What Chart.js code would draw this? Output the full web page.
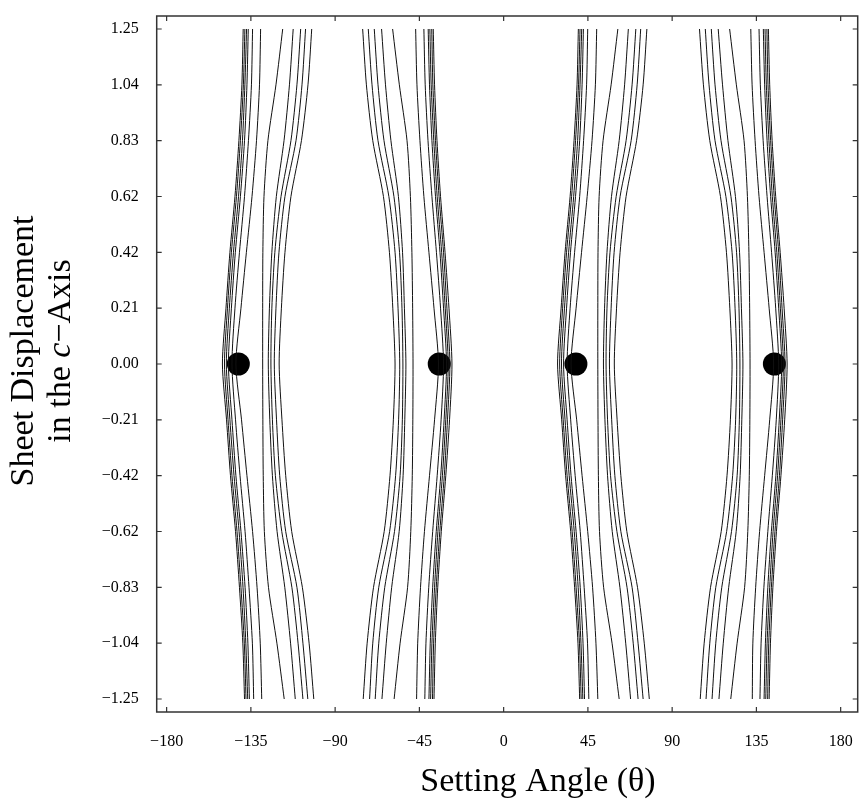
<!DOCTYPE html>
<html>
<head>
<meta charset="utf-8">
<script src="https://cdn.jsdelivr.net/npm/chart.js@4.4.1/dist/chart.umd.min.js"></script>
<style>
    html, body { margin: 0; padding: 0; background: #fff; }
    #wrap { width: 859px; height: 802px; }
</style>
</head>
<body>
<div id="wrap"><canvas id="chart" width="859" height="802"></canvas></div>
<script>
// Sheet displacement levels (top to bottom) shared by every contour line
const yLevels = [1.25, 1.0417, 0.8333, 0.625, 0.4167, 0.2083, 0, -0.2083, -0.4167, -0.625, -0.8333, -1.0417, -1.25];

// Tick values and labels
const xTicks = [-180, -135, -90, -45, 0, 45, 90, 135, 180];
const yTicks = [-1.25, -1.0417, -0.8333, -0.625, -0.4167, -0.2083, 0, 0.2083, 0.4167, 0.625, 0.8333, 1.0417, 1.25];
const yTickLabels = ['\u22121.25', '\u22121.04', '\u22120.83', '\u22120.62', '\u22120.42', '\u22120.21', '0.00',
    '0.21', '0.42', '0.62', '0.83', '1.04', '1.25'];

// Contour lines, setting angle at each level of yLevels
const group1 = [
    [-139.1, -139.8, -141.4, -143.5, -146.2, -148.3, -150.2, -148.0, -145.9, -143.2, -141.1, -139.3, -138.4],
    [-138.2, -139.0, -140.6, -142.7, -145.4, -147.5, -149.1, -147.2, -145.1, -142.4, -140.3, -138.5, -137.6],
    [-137.3, -138.2, -139.5, -141.6, -144.3, -146.5, -148.1, -146.2, -144.0, -141.3, -139.2, -137.7, -136.7],
    [-136.4, -137.1, -138.4, -140.6, -143.3, -145.4, -147.0, -145.1, -143.0, -140.3, -138.1, -136.6, -135.8],
    [-134.1, -134.7, -136.3, -138.4, -141.1, -143.5, -145.1, -143.2, -140.8, -138.1, -136.0, -134.2, -133.5],
    [-129.8, -130.4, -132.0, -134.4, -137.4, -140.3, -143.0, -140.0, -137.1, -134.1, -131.7, -130.0, -129.2],
    [-118.0, -121.6, -125.9, -128.0, -128.6, -128.7, -128.7, -128.6, -128.4, -127.8, -125.6, -121.1, -117.2],
    [-112.4, -114.4, -117.3, -121.4, -123.8, -125.1, -125.7, -124.9, -123.5, -121.0, -116.9, -113.8, -111.3],
    [-108.4, -110.4, -113.6, -118.9, -122.2, -123.8, -124.3, -123.5, -121.9, -118.5, -113.1, -109.8, -107.2],
    [-105.8, -107.7, -110.9, -116.8, -120.0, -121.6, -122.5, -121.3, -119.6, -116.4, -110.4, -107.2, -104.6],
    [-102.5, -104.5, -108.0, -113.6, -116.8, -118.7, -119.9, -118.4, -116.4, -113.2, -107.5, -103.9, -101.4]
];
const group2 = [
    [-37.6, -36.9, -35.6, -33.7, -31.3, -29.2, -27.6, -28.9, -30.9, -33.3, -35.2, -36.5, -37.2],
    [-38.4, -37.8, -36.4, -34.5, -32.1, -30.3, -28.7, -30.0, -31.7, -34.1, -36.0, -37.4, -38.0],
    [-39.4, -38.7, -37.3, -35.5, -33.1, -31.2, -29.6, -30.9, -32.7, -35.1, -36.9, -38.3, -39.0],
    [-40.3, -39.6, -38.3, -36.4, -34.0, -32.1, -30.5, -31.8, -33.6, -36.0, -37.9, -39.2, -39.9],
    [-42.6, -41.9, -40.4, -38.3, -35.9, -33.7, -32.1, -33.4, -35.5, -37.9, -40.0, -41.5, -42.1],
    [-47.0, -46.3, -44.7, -42.6, -39.9, -37.2, -34.8, -36.9, -39.6, -42.3, -44.4, -45.9, -46.5],
    [-59.3, -55.7, -51.6, -49.8, -49.0, -48.6, -48.4, -48.5, -48.8, -49.6, -51.3, -55.3, -58.5],
    [-65.2, -63.1, -60.2, -56.2, -54.0, -53.0, -52.2, -52.8, -53.7, -55.8, -59.8, -62.7, -65.0],
    [-69.1, -67.1, -63.9, -58.6, -55.6, -54.3, -53.8, -54.1, -55.3, -58.3, -63.5, -66.7, -68.6],
    [-72.3, -70.3, -67.1, -61.3, -58.0, -56.4, -55.5, -56.1, -57.7, -60.9, -66.7, -69.9, -71.6],
    [-75.3, -73.3, -69.9, -64.2, -61.0, -59.2, -58.0, -58.9, -60.7, -63.8, -69.5, -72.9, -75.0]
];
const group3 = [
    [39.9, 39.2, 37.6, 35.5, 32.8, 30.7, 28.8, 31.0, 33.1, 35.8, 37.9, 39.7, 40.6],
    [40.8, 40.0, 38.4, 36.3, 33.6, 31.5, 29.9, 31.8, 33.9, 36.6, 38.7, 40.5, 41.4],
    [41.7, 40.8, 39.5, 37.4, 34.7, 32.5, 30.9, 32.8, 35.0, 37.7, 39.8, 41.3, 42.3],
    [42.6, 41.9, 40.6, 38.4, 35.7, 33.6, 32.0, 33.9, 36.0, 38.7, 40.9, 42.4, 43.2],
    [44.9, 44.3, 42.7, 40.6, 37.9, 35.5, 33.9, 35.8, 38.2, 40.9, 43.0, 44.8, 45.5],
    [49.7, 49.0, 47.2, 44.6, 41.6, 38.7, 36.0, 39.0, 41.9, 44.9, 47.5, 49.3, 50.3],
    [61.0, 57.4, 53.1, 51.0, 50.4, 50.3, 50.3, 50.4, 50.6, 51.2, 53.4, 57.9, 61.7],
    [66.6, 64.6, 61.7, 57.6, 55.2, 53.9, 53.3, 54.1, 55.5, 58.0, 62.1, 65.2, 67.8],
    [70.6, 68.6, 65.4, 60.1, 56.8, 55.2, 54.7, 55.5, 57.1, 60.5, 65.9, 69.2, 71.8],
    [73.2, 71.3, 68.1, 62.2, 59.0, 57.4, 56.5, 57.7, 59.4, 62.6, 68.6, 71.8, 74.5],
    [76.5, 74.5, 71.0, 65.4, 62.2, 60.3, 59.1, 60.6, 62.6, 65.8, 71.5, 75.1, 77.8]
];
const group4 = [
    [141.4, 142.1, 143.4, 145.3, 147.7, 149.8, 151.4, 150.1, 148.1, 145.7, 143.8, 142.5, 141.8],
    [140.6, 141.2, 142.6, 144.5, 146.9, 148.7, 150.3, 149.0, 147.3, 144.9, 143.0, 141.6, 141.0],
    [139.6, 140.3, 141.7, 143.5, 145.9, 147.8, 149.4, 148.1, 146.3, 143.9, 142.1, 140.7, 140.0],
    [138.7, 139.4, 140.7, 142.6, 145.0, 146.9, 148.5, 147.2, 145.4, 143.0, 141.1, 139.8, 139.1],
    [136.4, 137.1, 138.6, 140.7, 143.1, 145.3, 146.9, 145.6, 143.5, 141.1, 139.0, 137.5, 136.9],
    [132.0, 132.7, 134.3, 136.4, 139.1, 141.8, 144.2, 142.1, 139.4, 136.7, 134.6, 133.1, 132.8],
    [120.7, 124.3, 128.4, 130.2, 131.0, 131.4, 131.6, 131.5, 131.2, 130.4, 128.7, 124.7, 121.3],
    [114.6, 116.9, 119.8, 123.8, 126.0, 127.0, 127.8, 127.2, 126.3, 124.2, 120.2, 117.3, 115.0],
    [110.9, 112.9, 116.1, 121.4, 124.4, 125.7, 126.2, 125.9, 124.7, 121.7, 116.5, 113.3, 111.3],
    [107.7, 109.7, 112.9, 118.7, 122.0, 123.6, 124.5, 123.9, 122.3, 119.1, 113.3, 110.1, 108.1],
    [104.6, 106.7, 110.1, 115.8, 119.0, 120.8, 122.0, 121.1, 119.3, 116.2, 110.5, 107.1, 105.0]
];

// Minima (black dots)
const dotX = [-141.7, -34.4, 38.6, 144.6];
const dotY = [0, 0, 0, 0];

const serif = '"Liberation Serif", "Times New Roman", serif';

function minus(v) {
    return String(v).replace('-', '\u2212');
}

// Keep Chart.js from reserving room for edge tick labels
function noPadding(scale) {
    scale.paddingLeft = 0;
    scale.paddingRight = 0;
    scale.paddingTop = 0;
    scale.paddingBottom = 0;
}

// Build line datasets
const datasets = [];
[group1, group2, group3, group4].forEach(group => {
    group.forEach(xs => {
        datasets.push({
            type: 'scatter',
            data: xs.map((x, i) => ({ x: x, y: yLevels[i] })),
            showLine: true,
            borderColor: '#111',
            borderWidth: 1,
            pointRadius: 0,
            tension: 0.25,
            fill: false
        });
    });
});
datasets.push({
    type: 'scatter',
    data: dotX.map((x, i) => ({ x: x, y: dotY[i] })),
    showLine: false,
    pointRadius: 11.5,
    pointBackgroundColor: '#000',
    pointBorderColor: '#000',
    pointBorderWidth: 0
});

// Frame, inward ticks and axis titles
const framePlugin = {
    id: 'frame',
    afterDraw(chart) {
        const { ctx, chartArea: a, scales } = chart;
        ctx.save();
        ctx.strokeStyle = '#333';
        ctx.lineWidth = 1.5;
        ctx.strokeRect(a.left, a.top, a.right - a.left, a.bottom - a.top);
        ctx.lineWidth = 1.2;
        ctx.beginPath();
        xTicks.forEach(v => {
            const px = scales.x.getPixelForValue(v);
            ctx.moveTo(px, a.bottom); ctx.lineTo(px, a.bottom - 5);
            ctx.moveTo(px, a.top); ctx.lineTo(px, a.top + 5);
        });
        yTicks.forEach(v => {
            const py = scales.y.getPixelForValue(v);
            ctx.moveTo(a.left, py); ctx.lineTo(a.left + 5, py);
            ctx.moveTo(a.right, py); ctx.lineTo(a.right - 5, py);
        });
        ctx.stroke();

        // x title
        ctx.fillStyle = '#000';
        ctx.font = '34px ' + serif;
        ctx.textAlign = 'center';
        ctx.textBaseline = 'alphabetic';
        ctx.fillText('Setting Angle (\u03b8)', 538, 791);

        // y title, two lines, rotated
        ctx.translate(0, 351);
        ctx.rotate(-Math.PI / 2);
        ctx.textAlign = 'center';
        ctx.fillText('Sheet Displacement', 0, 33);
        const parts = [
            { t: 'in the ', f: '34px ' + serif },
            { t: 'c', f: 'italic 34px ' + serif },
            { t: '\u2212Axis', f: '34px ' + serif }
        ];
        let total = 0;
        parts.forEach(p => { ctx.font = p.f; p.w = ctx.measureText(p.t).width; total += p.w; });
        let x = -total / 2;
        ctx.textAlign = 'left';
        parts.forEach(p => { ctx.font = p.f; ctx.fillText(p.t, x, 70); x += p.w; });
        ctx.restore();
    }
};

new Chart(document.getElementById('chart').getContext('2d'), {
    type: 'scatter',
    data: { datasets: datasets },
    options: {
        responsive: false,
        animation: false,
        layout: {
            autoPadding: false,
            padding: { top: 16, right: 1.3, left: 0, bottom: 0 }
        },
        plugins: {
            legend: { display: false },
            tooltip: { enabled: false }
        },
        scales: {
            x: {
                type: 'linear',
                min: -185.3,
                max: 189.1,
                // tick marks are drawn by the plugin; tickLength only spaces the labels
                grid: { display: false, drawTicks: true, tickLength: 20 },
                border: { display: false },
                afterBuildTicks: scale => { scale.ticks = xTicks.map(v => ({ value: v })); },
                afterFit: scale => {
                    scale.height = 90;
                    noPadding(scale);
                },
                ticks: {
                    padding: 0,
                    color: '#000',
                    font: { family: serif, size: 16 },
                    maxRotation: 0,
                    callback: v => minus(v)
                }
            },
            y: {
                type: 'linear',
                min: -1.2985,
                max: 1.2985,
                grid: { display: false, drawTicks: true, tickLength: 18 },
                border: { display: false },
                afterBuildTicks: scale => { scale.ticks = yTicks.map(v => ({ value: v })); },
                afterFit: scale => {
                    scale.width = 156.7;
                    noPadding(scale);
                },
                ticks: {
                    padding: 0,
                    color: '#000',
                    font: { family: serif, size: 16 },
                    callback: (v, i) => yTickLabels[i]
                }
            }
        }
    },
    plugins: [framePlugin]
});
</script>
</body>
</html>
